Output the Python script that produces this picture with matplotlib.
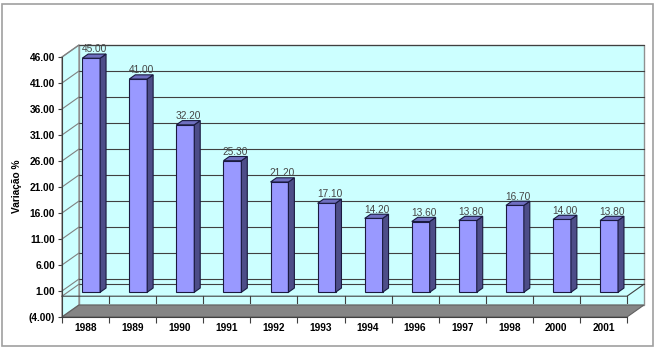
import numpy as np
import matplotlib.pyplot as plt
from matplotlib.patches import Polygon, Rectangle

plt.rcParams['font.family'] = ['Liberation Sans', 'DejaVu Sans']

# dados
anos = ['1988', '1989', '1990', '1991', '1992', '1993', '1994',
        '1996', '1997', '1998', '2000', '2001']
variacao = [45.00, 41.00, 32.20, 25.30, 21.20, 17.10, 14.20,
            13.60, 13.80, 16.70, 14.00, 13.80]
yticks = np.arange(-4, 47, 5)

def fmt(v):
    return '(%.2f)' % abs(v) if v < 0 else '%.2f' % v

W, H = 658, 349
fig = plt.figure(figsize=(W / 100, H / 100), dpi=100)
ax = fig.add_axes([62 / W, (H - 317) / H, 565 / W, 260 / H])
n = len(anos)
x0, x1 = -0.5, n - 0.5
y0, y1 = -4, 46
ax.set_xlim(x0, x1)
ax.set_ylim(y0, y1)

# profundidade 3D em unidades de dados
dx = 17 / (565 / n)
dy = 12 / (260 / (y1 - y0))

wall = '#ccffff'
# parede do fundo, parede lateral, chao
ax.add_patch(Polygon([(x0 + dx, y0 + dy), (x1 + dx, y0 + dy), (x1 + dx, y1 + dy), (x0 + dx, y1 + dy)],
                     closed=True, fc=wall, ec='#909090', lw=1, clip_on=False, zorder=1))
ax.add_patch(Polygon([(x0, y0), (x0 + dx, y0 + dy), (x0 + dx, y1 + dy), (x0, y1)],
                     closed=True, fc=wall, ec='#909090', lw=1, clip_on=False, zorder=1))
ax.add_patch(Polygon([(x0, y0), (x1, y0), (x1 + dx, y0 + dy), (x0 + dx, y0 + dy)],
                     closed=True, fc='#858585', ec='#606060', lw=0.8, clip_on=False, zorder=2))

# linhas de grade
for v in list(yticks[1:]) + [0]:
    ax.plot([x0 + dx, x1 + dx], [v + dy, v + dy], color='#404040', lw=0.8, clip_on=False, zorder=2)
    ax.plot([x0, x0 + dx], [v, v + dy], color='#808080', lw=0.8, clip_on=False, zorder=2)
# eixo das categorias no zero
ax.plot([x0, x1, x1 + dx], [0, 0, dy], color='#404040', lw=0.8, clip_on=False, zorder=2)
for k in range(1, n + 1):
    ax.plot([x0 + k, x0 + k], [0, -1.3], color='#404040', lw=0.8, clip_on=False, zorder=2)

# barras 3D
w = 0.38
b0, b1 = 0.33, 0.68
ddx = (b1 - b0) * dx
for i, v in enumerate(variacao):
    xl = i - w / 2 + b0 * dx
    xr = xl + w
    yb = b0 * dy
    yt = v + b0 * dy
    ax.add_patch(Polygon([(xl, yb), (xr, yb), (xr, yt), (xl, yt)], closed=True,
                         fc='#9999ff', ec='#1a1a40', lw=0.8, clip_on=False, zorder=4))
    ax.add_patch(Polygon([(xr, yb), (xr + ddx, yb + (b1 - b0) * dy), (xr + ddx, yt + (b1 - b0) * dy), (xr, yt)],
                         closed=True, fc='#4d4d88', ec='#1a1a40', lw=0.8, clip_on=False, zorder=4))
    ax.add_patch(Polygon([(xl, yt), (xr, yt), (xr + ddx, yt + (b1 - b0) * dy), (xl + ddx, yt + (b1 - b0) * dy)],
                         closed=True, fc='#6f6fc0', ec='#1a1a40', lw=0.8, clip_on=False, zorder=4))
    ax.text(i + (b0 + b1) / 2 * dx, v + b1 * dy + 0.9, '%.2f' % v, ha='center', va='center',
            fontsize=7.3, color='#454545', zorder=5)

# eixos
for s in ['top', 'right']:
    ax.spines[s].set_visible(False)
ax.spines['left'].set_color('#404040')
ax.spines['bottom'].set_color('#404040')
ax.spines['left'].set_zorder(3)
ax.spines['bottom'].set_zorder(3)
ax.patch.set_visible(False)
ax.set_yticks(yticks)
ax.set_yticklabels([fmt(v) for v in yticks], fontsize=7.3, fontweight='bold')
ax.set_xticks(np.arange(n + 1) - 0.5)
ax.set_xticklabels([])
ax.set_xticks(np.arange(n), minor=True)
ax.set_xticklabels(anos, minor=True, fontsize=7.3, fontweight='bold')
ax.tick_params(axis='y', direction='out', length=3, width=0.8, color='#404040', pad=2)
ax.tick_params(axis='x', which='major', direction='out', length=4, width=0.8, color='#404040')
ax.tick_params(axis='x', which='minor', length=0, pad=4.5)

fig.text(17 / W, 1 - 186 / H, 'Variação %', rotation=90, ha='center', va='center',
         fontsize=7.3, fontweight='bold')

# moldura do grafico
fig.add_artist(Rectangle((1.5 / W, (H - 346) / H), 651 / W, 342 / H, transform=fig.transFigure,
                         fill=False, ec='#a0a0a0', lw=1.2))

fig.savefig('out.png', dpi=100)
